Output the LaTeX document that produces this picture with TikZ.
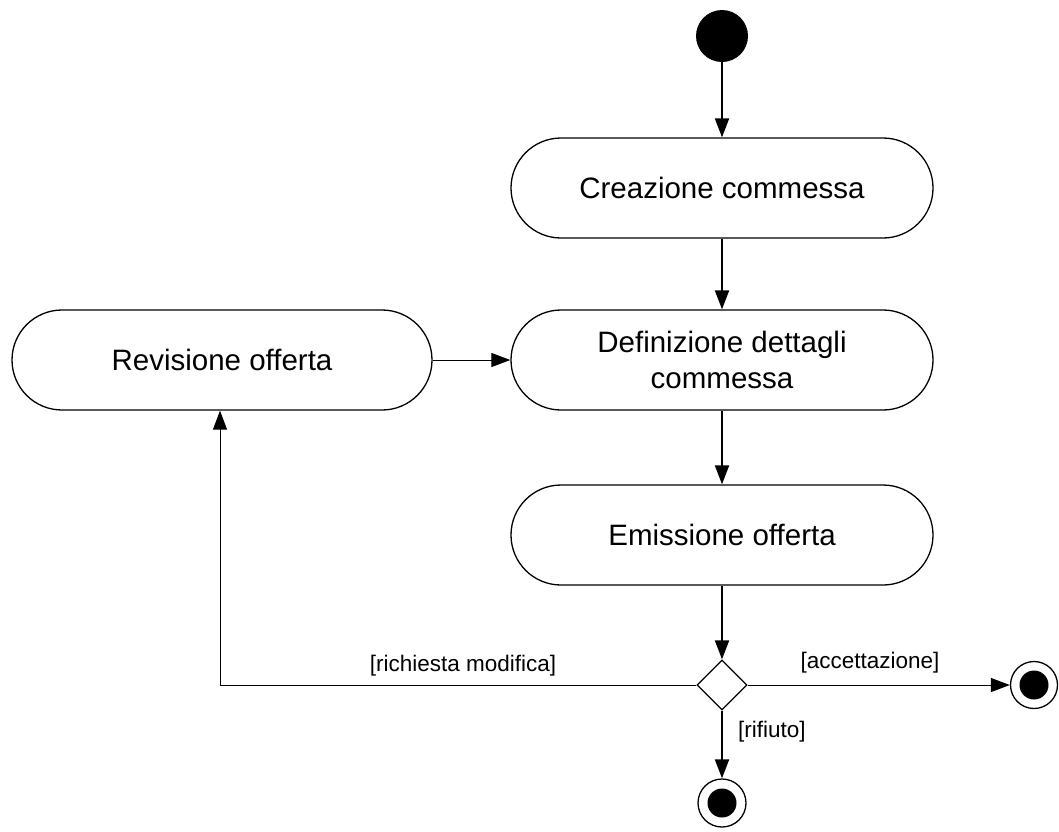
\documentclass[tikz,border=0pt]{standalone}
\usepackage{fontspec}
\setmainfont{Liberation Sans}
\usetikzlibrary{shapes.geometric,arrows.meta}

\tikzset{
  act/.style={draw, line width=1.3pt, rounded corners=50pt, minimum width=422pt,
    minimum height=100pt, align=center, font=\fontsize{29.5}{36}\selectfont},
  guard/.style={font=\fontsize{22.5}{26}\selectfont, inner sep=2pt},
  flow/.style={line width=2pt, -{Triangle[length=19pt,width=14pt]}},
  thinflow/.style={line width=1pt, -{Triangle[length=19pt,width=14pt]}},
}

\begin{document}
\begin{tikzpicture}[x=1pt, y=-1pt]
        \useasboundingbox (0,0) rectangle (1059,831);
        \node(start) at (722,36) [circle, fill=black, minimum size=52pt, inner sep=0pt] {};
        \node(crea) at (722,188) [act] {Creazione commessa};
        \node(defi) at (722,360) [act] {Definizione dettagli\\commessa};
        \node(revi) at (222,360) [act, minimum width=420pt] {Revisione offerta};
        \node(emis) at (722,535) [act] {Emissione offerta};
        \node(dec) at (722,685) [diamond, draw, line width=1.3pt, minimum width=50pt, minimum height=50pt, inner sep=0pt] {};
        \node(endr) at (1034,685) [circle, draw, line width=1.3pt, minimum size=47pt, inner sep=0pt] {};
        \node[circle, fill=black, minimum size=29pt, inner sep=0pt] at (endr) {};
        \node(endd) at (722,803) [circle, draw, line width=1.3pt, minimum size=48pt, inner sep=0pt] {};
        \node[circle, fill=black, minimum size=29pt, inner sep=0pt] at (endd) {};
        \coordinate(turn) at (220,685);
        \draw[flow](start)--(crea);
        \draw[flow](crea)--(defi);
        \draw[flow](defi)--(emis);
        \draw[flow](emis)--(dec);
        \draw[thinflow](revi)--(defi);
        \draw[thinflow](dec.west)--(turn)--(revi.south -| turn);
        \draw[thinflow](dec.east)--(endr);
        \draw[flow](dec.south)--(endd);
        \node[guard] at (463,666) {[richiesta modifica]};
        \node[guard] at (870,663) {[accettazione]};
        \node[guard, anchor=west] at (736,732) {[rifiuto]};
        \end{tikzpicture}
\end{document}
